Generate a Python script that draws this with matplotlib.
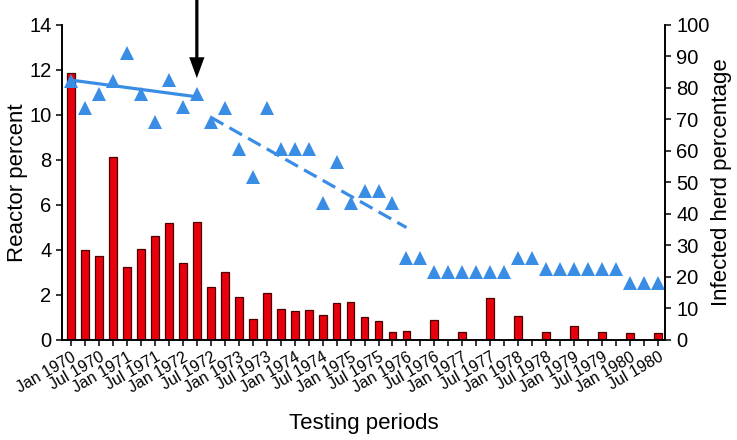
import numpy as np
import matplotlib
matplotlib.use("Agg")
import matplotlib.pyplot as plt

plt.rcParams['font.family'] = ['Liberation Sans', 'DejaVu Sans']

nan = np.nan

# quarterly testing periods, Jan 1970 .. Jul 1980 (43 quarters)
period_labels = [f"{m} {y}" for y in range(1970, 1981) for m in ("Jan", "Jul")]

# reactor percent (bars), nan = no test that quarter
reactor_pct = [11.85, 4.0, 3.73, 8.15, 3.26, 4.04, 4.64, 5.2, 3.44, 5.24,
               2.34, 3.0, 1.91, 0.93, 2.07, 1.36, 1.27, 1.33, 1.11, 1.63,
               1.70, 1.01, 0.84, 0.37, 0.41, nan, 0.89, nan, 0.34, nan,
               1.85, nan, 1.07, nan, 0.34, nan, 0.61, nan, 0.34, nan,
               0.30, nan, 0.30]

# infected herd percentage (triangles)
herd_pct = [82.2, 73.7, 78.0, 82.2, 91.2, 78.0, 69.2, 82.4, 74.1, 78.0,
            69.2, 73.7, 60.6, 51.8, 73.7, 60.6, 60.6, 60.6, 43.4, 56.4,
            43.4, 47.4, 47.4, 43.4, 26.1, 26.1, 21.5, 21.5, 21.5, 21.5,
            21.5, 21.5, 25.9, 25.9, 22.4, 22.4, 22.4, 22.4, 22.4, 22.4,
            18.0, 18.0, 18.0]

# trend lines (start/end period, herd %)
trend_before_x = [0, 9]
trend_before_y = [82.5, 77.2]
trend_after_x = [10, 24]
trend_after_y = [70.7, 35.7]

# intervention period marked by the arrow
arrow_period = 9
arrow_tip = 11.64

x = np.arange(len(reactor_pct))
blue = '#3a8de4'

fig = plt.figure(figsize=(7.37, 4.40), dpi=100)
ax = fig.add_axes([0.0841, 0.2273, 0.8182, 0.7159])
ax2 = ax.twinx()

ax.bar(x, reactor_pct, width=0.56, color='#e8000c', edgecolor='#4a0000', linewidth=0.9)

ax2.plot(x, herd_pct, linestyle='none', marker='^', markersize=9.8, color=blue, markeredgewidth=0)
ax2.plot(trend_before_x, trend_before_y, color=blue, linewidth=2.3)
ax2.plot(trend_after_x, trend_after_y, color=blue, linewidth=2.3, dashes=(4.5, 2.2))

ax.annotate('', xy=(arrow_period, arrow_tip), xytext=(arrow_period, 15.15),
            xycoords='data', annotation_clip=False,
            arrowprops=dict(facecolor='black', edgecolor='black', linewidth=0,
                            width=2.3, headwidth=11, headlength=15, shrink=0))

ax.set_xlim(-0.65, 42.5)
ax.set_ylim(0, 14)
ax.set_yticks(np.arange(0, 15, 2))
ax2.set_ylim(0, 100)
ax2.set_yticks(np.arange(0, 101, 10))

ax.set_xticks(x)
ax.set_xticklabels([period_labels[i // 2] if i % 2 == 0 else '' for i in x],
                   rotation=30, ha='right', rotation_mode='anchor', fontsize=11.5)

for a in (ax, ax2):
    a.spines['top'].set_visible(False)
    for s in a.spines.values():
        s.set_linewidth(1.2)
    a.tick_params(direction='out', length=4, width=1.1, labelsize=14.5)
ax.tick_params(axis='x', labelsize=11.5, pad=3)
ax2.tick_params(axis='y', pad=4)

ax.set_ylabel('Reactor percent', fontsize=16)
ax2.set_ylabel('Infected herd percentage', fontsize=16)
ax.set_xlabel('Testing periods', fontsize=16)
ax.yaxis.set_label_coords(-0.056, 0.5)
ax2.yaxis.set_label_coords(1.076, 0.5)
ax.xaxis.set_label_coords(0.5, -0.232)

fig.savefig('out.png', dpi=100)
